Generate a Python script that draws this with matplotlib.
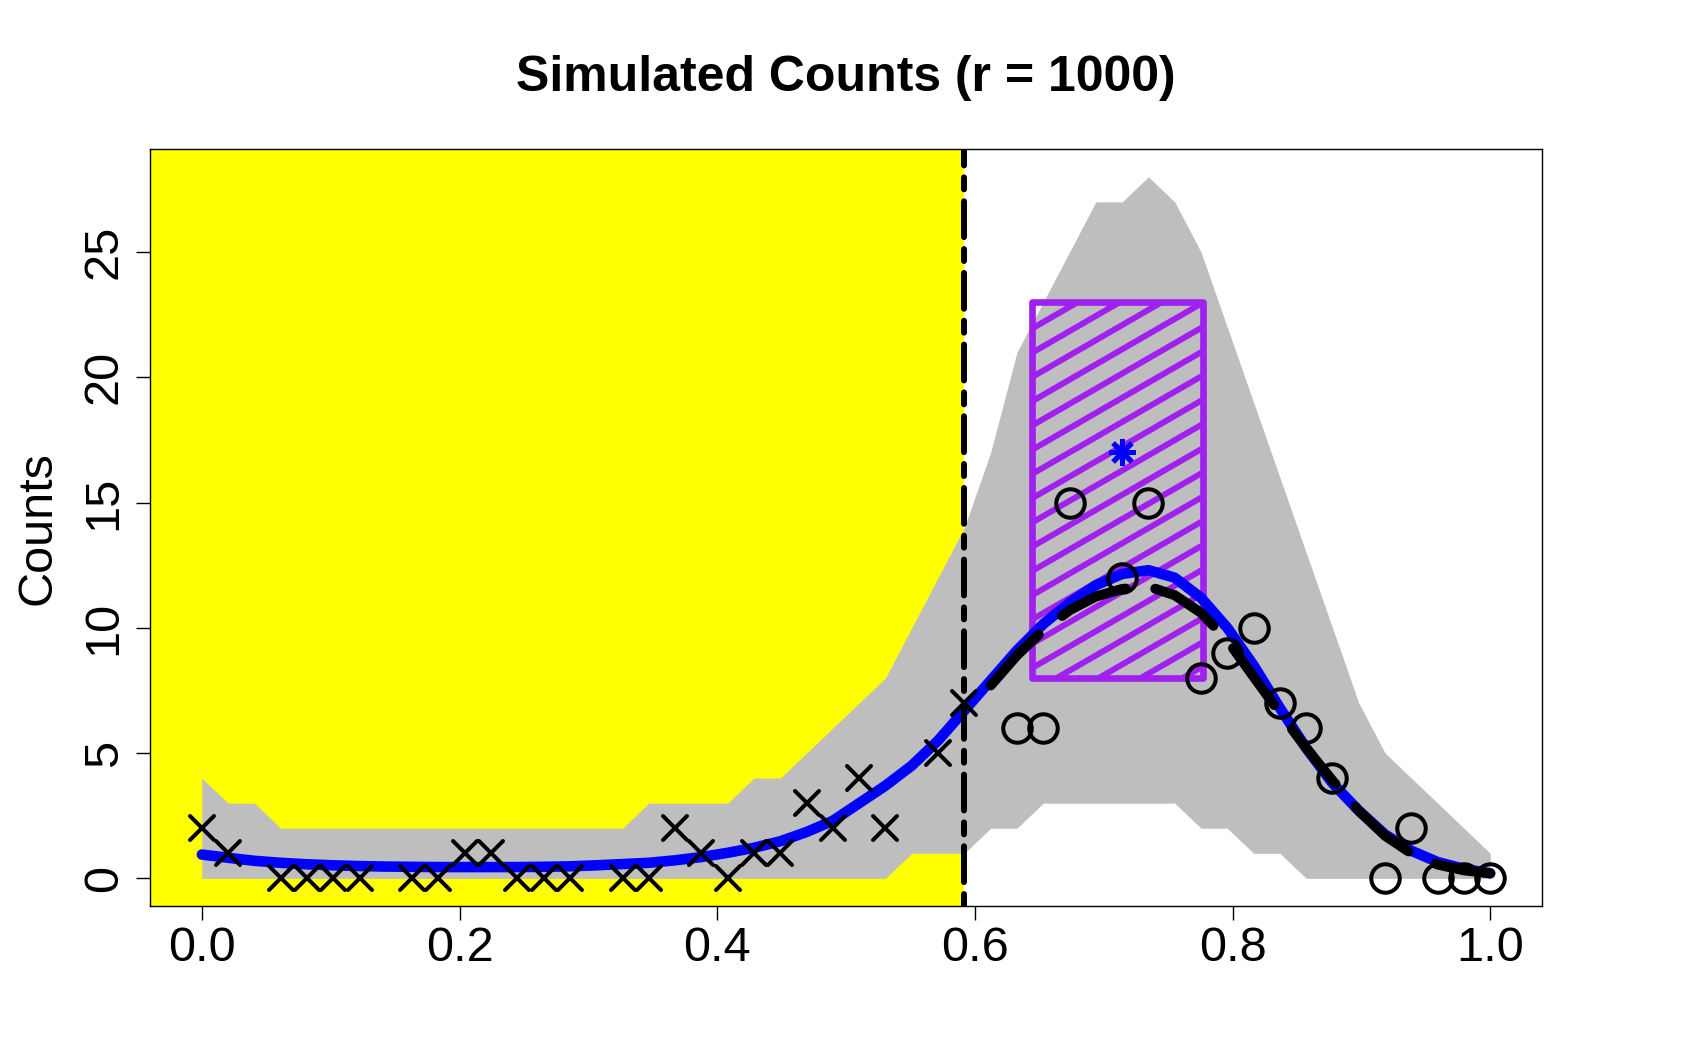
import numpy as np
import matplotlib
matplotlib.use("Agg")
import matplotlib.pyplot as plt
from matplotlib.patches import Rectangle
from matplotlib.markers import MarkerStyle

plt.rcParams['font.family'] = ['Liberation Sans', 'DejaVu Sans']

# grid of 50 design points, x = 0 .. 1
grid = np.linspace(0, 1, 50)

# simulation envelope (grey band), one value per grid point
band_upper = [4, 3, 3, 2, 2, 2, 2, 2, 2, 2,
              2, 2, 2, 2, 2, 2, 2, 3, 3, 3,
              3, 4, 4, 5, 6, 7, 8, 10, 12, 14,
              17, 21, 23, 25, 27, 27, 28, 27, 25, 22,
              19, 16, 13, 10, 7, 5, 4, 3, 2, 1]
band_lower = [0] * 27 + [1, 1, 1, 2, 2, 3, 3, 3, 3, 3, 3, 2, 2, 1, 1] + [0] * 8

# fitted curves
blue_fit = [0.95, 0.82, 0.70, 0.62, 0.56, 0.52, 0.49, 0.47, 0.46, 0.45,
            0.45, 0.45, 0.45, 0.46, 0.48, 0.52, 0.57, 0.62, 0.72, 0.85,
            1.02, 1.22, 1.48, 1.85, 2.30, 3.00, 3.70, 4.50, 5.50, 6.70,
            7.90, 9.10, 10.15, 11.00, 11.70, 12.15, 12.30, 12.00, 11.20, 10.00,
            8.50, 6.80, 5.20, 3.80, 2.70, 1.75, 1.10, 0.65, 0.38, 0.20]
black_start = 30
black_fit = [7.70, 8.90, 9.90, 10.70, 11.25, 11.55, 11.65, 11.30, 10.60, 9.50,
             8.05, 6.60, 5.20, 3.90, 2.70, 1.70, 1.00, 0.55, 0.32, 0.20]

# observed counts (index into grid, count)
obs_idx = [0, 1, 3, 4, 5, 6, 8, 9, 10, 11, 12, 13, 14, 16, 17, 18, 19, 20, 21,
           22, 23, 24, 25, 26, 28, 29, 31, 32, 33, 35, 36, 38, 39, 40, 41, 42,
           43, 45, 46, 47, 48, 49]
obs_count = [2, 1, 0, 0, 0, 0, 0, 0, 1, 1, 0, 0, 0, 0, 0, 2, 1, 0, 1,
             1, 3, 2, 4, 2, 5, 7, 6, 6, 15, 12, 15, 8, 9, 10, 7, 6,
             4, 0, 2, 0, 0, 0]

cut_x = 29 / 49          # dashed threshold
box_x = [0.644, 0.777]   # purple interval
box_y = [8, 23]
star_x, star_y = 35 / 49, 17

W, H = 1692, 1058
fig = plt.figure(figsize=(W / 100, H / 100), dpi=100)
ax = fig.add_axes([150.3 / W, 1 - 906.4 / H, (1541.8 - 150.3) / W, (906.4 - 148.8) / H])
ax.set_xlim(-0.04, 1.04)
ax.set_ylim(-1.12, 29.12)

ax.axvspan(-0.04, cut_x, color='#FFFF00', lw=0, zorder=0)
ax.fill_between(grid, band_lower, band_upper, color='#BEBEBE', lw=0, zorder=1)

# hatched rectangle (shading lines at 30 degrees, drawn in pixel space)
purple = '#A020F0'
rect = Rectangle((box_x[0], box_y[0]), box_x[1] - box_x[0], box_y[1] - box_y[0],
                 fill=False, edgecolor=purple, lw=4.8, joinstyle='round', zorder=3)
ax.add_patch(rect)
p0 = ax.transData.transform((box_x[0], box_y[0]))
p1 = ax.transData.transform((box_x[1], box_y[1]))
ang = np.deg2rad(30)
d = np.array([np.cos(ang), np.sin(ang)])
nrm = np.array([-np.sin(ang), np.cos(ang)])
corners = np.array([[p0[0], p0[1]], [p1[0], p0[1]], [p0[0], p1[1]], [p1[0], p1[1]]])
centre = corners.mean(axis=0)
proj = corners @ nrm
inv = ax.transData.inverted()
for s in np.arange(proj.min() + 10, proj.max(), 21.0):
    base = s * nrm + (centre @ d) * d
    seg = np.array([base - 500 * d, base + 500 * d])
    seg = inv.transform(seg)
    ln, = ax.plot(seg[:, 0], seg[:, 1], color=purple, lw=4.3, zorder=2.9,
                  solid_capstyle='butt')
    ln.set_clip_path(rect)

ax.plot(grid, blue_fit, color='#0000FF', lw=7.6, solid_capstyle='round',
        solid_joinstyle='round', zorder=4)
ax.plot(grid[black_start:], black_fit, color='black', lw=7.2,
        linestyle=(0, (7, 3)), dash_capstyle='round', zorder=5)
ax.axvline(cut_x, color='black', lw=4.3, linestyle=(0, (2, 2, 6, 2)),
           dash_capstyle='round', zorder=5)

ox = grid[obs_idx]
oy = np.array(obs_count)
left = ox <= cut_x + 1e-9
ax.plot(ox[left], oy[left], linestyle='none',
        marker=MarkerStyle('x', capstyle='round'), ms=17, mew=2.9,
        color='black', zorder=6)
ax.plot(ox[~left], oy[~left], linestyle='none', marker='o', ms=20.5, mew=2.9,
        mfc='none', mec='black', zorder=6)
ax.plot([star_x], [star_y], linestyle='none',
        marker=MarkerStyle((8, 2, 0), capstyle='round'), ms=19, mew=3.6,
        color='#0000FF', zorder=7)

ax.set_xticks([0.0, 0.2, 0.4, 0.6, 0.8, 1.0])
ax.set_xticklabels(['0.0', '0.2', '0.4', '0.6', '0.8', '1.0'])
ax.set_yticks([0, 5, 10, 15, 20, 25])
ax.tick_params(labelsize=35, length=10, width=1.0, pad=4)
ax.tick_params(axis='y', pad=7)
plt.setp(ax.get_yticklabels(), rotation=90, va='center')
for sp in ax.spines.values():
    sp.set_linewidth(1.0)
    sp.set_zorder(8)

fig.text(846 / W, 1 - 78 / H, 'Simulated Counts (r = 1000)', ha='center',
         va='center', fontsize=36, fontweight='bold')
fig.text(37.8 / W, 1 - 527.6 / H, 'Counts', rotation=90, ha='center',
         va='center', fontsize=35)

fig.savefig('out.png', dpi=100)
